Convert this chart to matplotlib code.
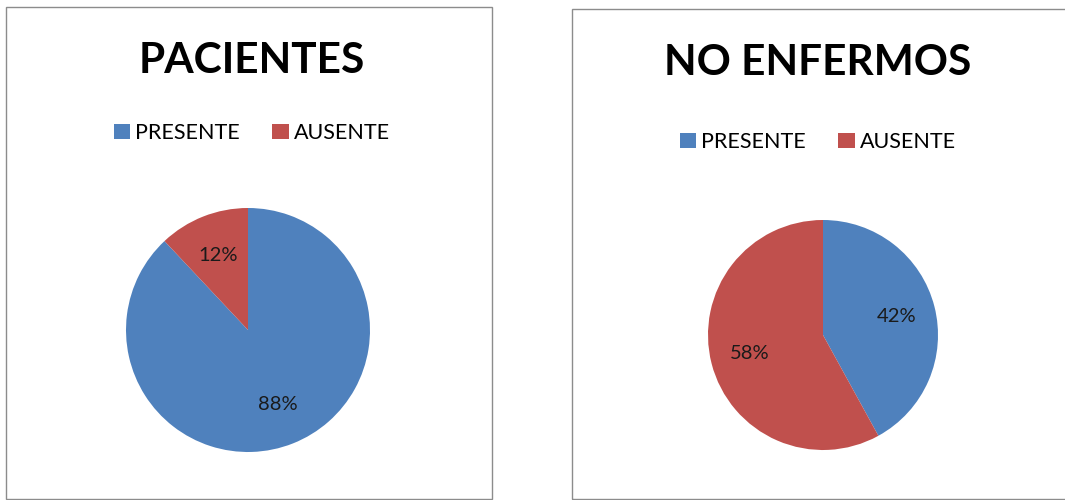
import matplotlib.pyplot as plt
from matplotlib.patches import Rectangle

# Datos de las dos gráficas
categorias = ["PRESENTE", "AUSENTE"]
pacientes = [88, 12]
no_enfermos = [42, 58]
colores = ["#4F81BD", "#C0504D"]

W, H = 1065, 500
fig = plt.figure(figsize=(W / 100, H / 100), dpi=100)
plt.rcParams['font.family'] = ['Lato', 'DejaVu Sans']


def px(x, y, w, h):
    # convierte una caja en píxeles (origen arriba a la izquierda) a coordenadas de figura
    return [x / W, 1 - (y + h) / H, w / W, h / H]


def panel(caja, titulo, y_titulo, valores, caja_pie, y_leyenda, x_centro):
    # marco gris del gráfico
    x0, y0, x1, y1 = caja
    fig.patches.append(Rectangle((x0 / W, 1 - y1 / H), (x1 - x0) / W, (y1 - y0) / H,
                                 transform=fig.transFigure, fill=False,
                                 edgecolor="#8c8c8c", linewidth=1.0))
    fig.text(x_centro / W, 1 - y_titulo / H, titulo, ha="center", va="center",
             fontsize=30.5, fontweight="bold", color="black")

    ax = fig.add_axes(px(*caja_pie))
    wedges, _, autotexts = ax.pie(valores, colors=colores, startangle=90,
                                  counterclock=False, autopct="%d%%",
                                  pctdistance=0.66, radius=1,
                                  textprops={"fontsize": 14.5, "color": "#1a1a1a"})
    ax.set_xlim(-1, 1)
    ax.set_ylim(-1, 1)
    ax.set_aspect("equal")
    ax.axis("off")

    fig.legend(wedges, categorias, loc="center", ncol=2, frameon=False,
               bbox_to_anchor=(x_centro / W, 1 - y_leyenda / H),
               fontsize=15.5, handlelength=0.75, handleheight=0.75,
               handletextpad=0.25, columnspacing=1.5)


panel((6, 7, 492, 499), "PACIENTES", 61, pacientes, (126, 208, 244, 244), 133, 252)
# el marco derecho sigue más allá del borde de la figura
panel((572, 9, 1100, 499), "NO ENFERMOS", 63, no_enfermos, (708, 220, 230, 230), 142, 818)

fig.savefig("out.png", dpi=100, facecolor="white")
